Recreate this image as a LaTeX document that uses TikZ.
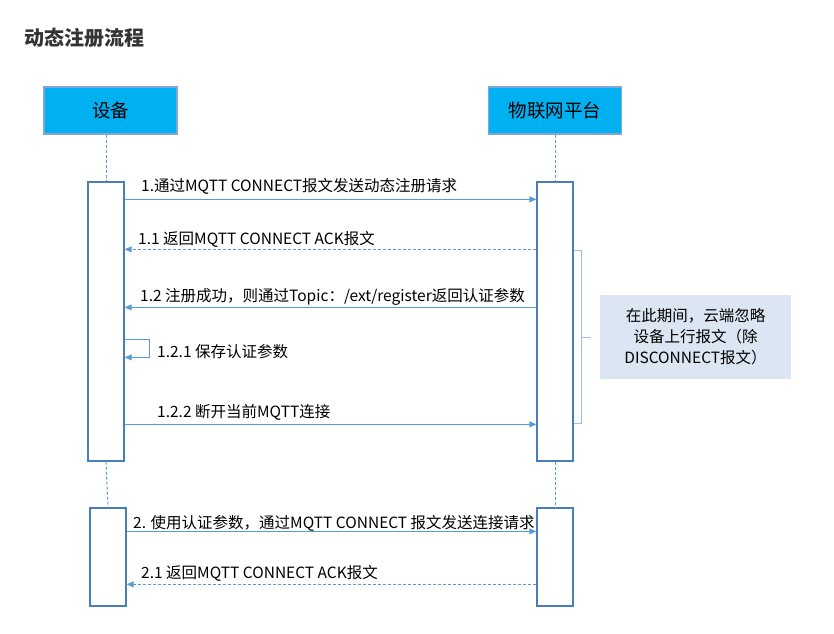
\documentclass[tikz,border=0pt]{standalone}
\usepackage{fontspec}
\setmainfont{Noto Sans CJK SC}
\usetikzlibrary{arrows.meta,positioning}

\definecolor{headfill}{HTML}{00B0F0}
\definecolor{headline}{HTML}{7FA6D6}
\definecolor{actline}{HTML}{4A7EBB}
\definecolor{msgline}{HTML}{5B9BD5}
\definecolor{bracecol}{HTML}{9DBFE6}
\definecolor{notefill}{HTML}{DCE6F2}
\definecolor{titlecol}{HTML}{333333}

\begin{document}
\begin{tikzpicture}[x=1pt, y=-1pt,
 head/.style={rectangle, draw=headline, fill=headfill, line width=1.5pt, minimum width=133pt, minimum height=47pt, font=\fontsize{18.5}{21}\selectfont, inner sep=0pt},
 actbox/.style={rectangle, draw=actline, fill=white, line width=1.3pt, minimum width=36pt, inner sep=0pt},
 life/.style={draw=msgline, dash pattern=on 3pt off 2pt, line width=1pt},
 arr/.style={->, >={Triangle[length=7pt,width=6pt]}, draw=msgline, line width=1pt},
 darr/.style={arr, dash pattern=on 3pt off 2pt},
 lbl/.style={anchor=west, font=\fontsize{15.5}{18}\selectfont, inner sep=0pt},
 note/.style={rectangle, fill=notefill, minimum width=191pt, minimum height=84pt, align=center, font=\fontsize{15.5}{21}\selectfont, inner sep=0pt},
]
\useasboundingbox (0,0) rectangle (834,633);
\node[anchor=west, font=\fontsize{20}{23}\selectfont\bfseries, text=titlecol, inner sep=0pt] (title) at (24,38) {动态注册流程};
% lifelines heads
\node[head] (dev) at (110.5,110.5) {设备};
\node[head] (iot) at (555,110.5) {物联网平台};
% activations
\node[actbox, minimum height=279pt] (dact1) at (106,321.5) {};
\node[actbox, minimum height=279pt] (pact1) at (555,321.5) {};
\node[actbox, minimum height=98pt] (dact2) at (108,557) {};
\node[actbox, minimum height=98pt] (pact2) at (555,557) {};
\draw[life] (dact1.north |- dev.south) -- (dact1.north);
\draw[life] (iot.south) -- (pact1.north);
\draw[life] (dact1.south) -- (dact2.north);
\draw[life] (pact1.south) -- (pact2.north);
% messages
\draw[arr] ([yshift=-18pt]dact1.north east) -- ([yshift=-18pt]pact1.north west);
\node[lbl] (m1) at (141,186) {1.通过MQTT CONNECT报文发送动态注册请求};
\draw[darr] ([yshift=-68pt]pact1.north west) -- ([yshift=-68pt]dact1.north east);
\node[lbl] (m11) at (138,239) {1.1 返回MQTT CONNECT ACK报文};
\draw[arr] ([yshift=-126pt]pact1.north west) -- ([yshift=-126pt]dact1.north east);
\node[lbl] (m12) at (140,297) {1.2 注册成功，则通过Topic：/ext/register返回认证参数};
\draw[arr] ([yshift=-158pt]dact1.north east) -| ([xshift=25pt,yshift=-176pt]dact1.north east) -- ([yshift=-176pt]dact1.north east);
\node[lbl] (m121) at (157,352) {1.2.1 保存认证参数};
\draw[arr] ([yshift=-243pt]dact1.north east) -- ([yshift=-243pt]pact1.north west);
\node[lbl] (m122) at (157,412) {1.2.2 断开当前MQTT连接};
\draw[arr] ([yshift=-24pt]dact2.north east) -- ([yshift=-24pt]pact2.north west);
\node[lbl] (m2) at (133,523) {2. 使用认证参数，通过MQTT CONNECT 报文发送连接请求};
\draw[darr] ([yshift=-77pt]pact2.north west) -- ([yshift=-77pt]dact2.north east);
\node[lbl] (m21) at (141,573) {2.1 返回MQTT CONNECT ACK报文};
% ignore period
\node[note] (ign) at (695.5,337) {在此期间，云端忽略\\设备上行报文（除\\DISCONNECT报文）};
\draw[draw=bracecol, line width=1pt] ([yshift=-69pt]pact1.north east) -- ++(8,0) |- ([yshift=-242pt]pact1.north east);
\draw[draw=bracecol, line width=1pt] ([xshift=8pt]pact1.east |- ign.west) -- ++(9,0);
\end{tikzpicture}
\end{document}
